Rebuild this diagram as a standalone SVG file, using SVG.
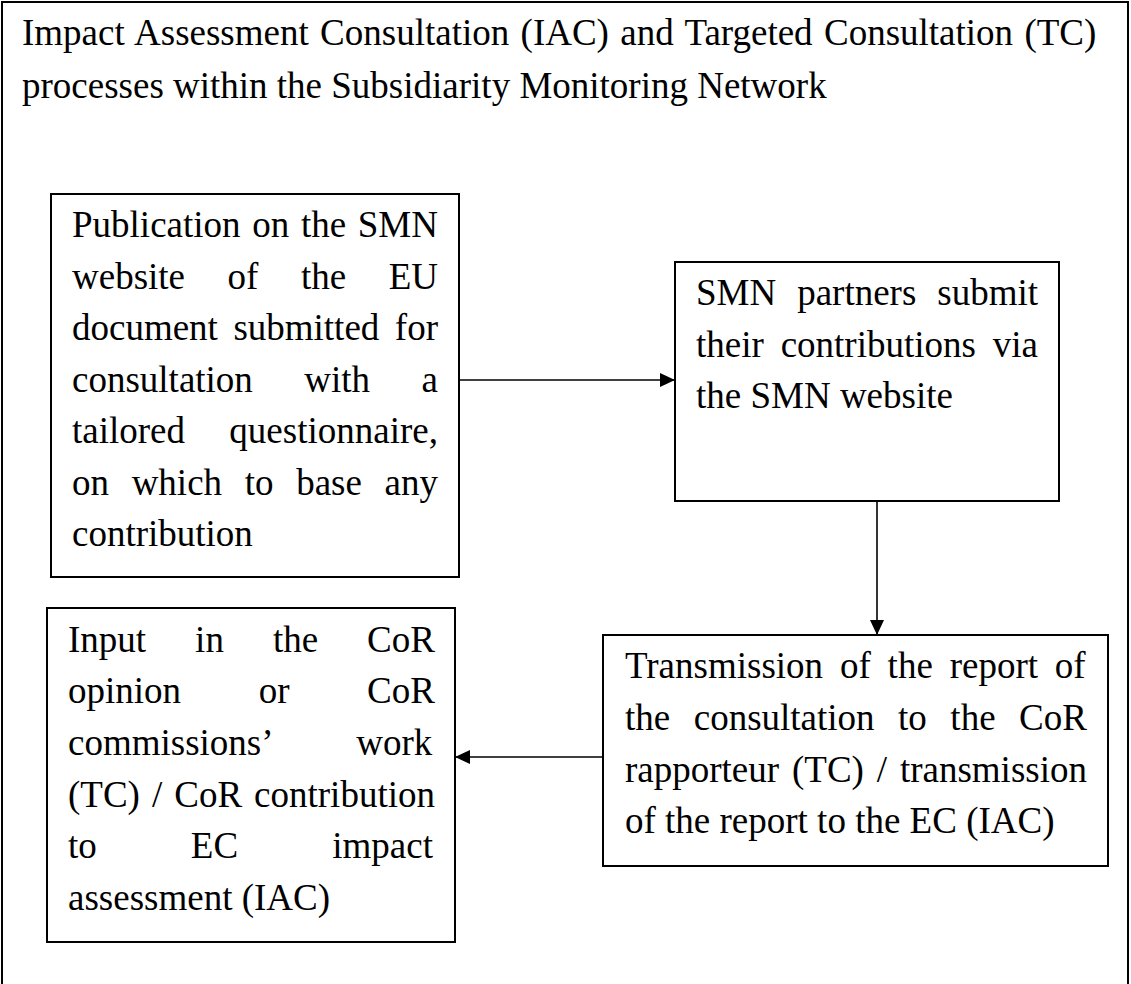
<svg xmlns="http://www.w3.org/2000/svg" width="1131" height="984" viewBox="0 0 1131 984">
<style>
.box{fill:#fff;stroke:#000;stroke-width:2}
.t{font-family:"Liberation Serif","Times New Roman",serif;font-size:37px;fill:#000}
.c{stroke:#000;stroke-width:1.6;fill:none}
</style>
<defs>
<marker id="ah" markerUnits="userSpaceOnUse" markerWidth="16" markerHeight="15" refX="15" refY="7" orient="auto">
<path d="M0,0 L15,7 L0,14 z" fill="#000"/>
</marker>
</defs>
<rect x="0" y="0" width="1131" height="984" fill="#fff"/>
<rect x="2" y="2" width="1126" height="1000" fill="none" stroke="#000" stroke-width="2"/>
<g id="title">
<text class="t" x="22" y="45" word-spacing="2.1">Impact Assessment Consultation (IAC) and Targeted Consultation (TC)</text>
<text class="t" x="22" y="98">processes within the Subsidiarity Monitoring Network</text>
</g>
<g id="connectors">
<line class="c" x1="459" y1="380" x2="675" y2="380" marker-end="url(#ah)"/>
<line class="c" x1="877" y1="501" x2="877" y2="635" marker-end="url(#ah)"/>
<line class="c" x1="603" y1="757" x2="455" y2="757" marker-end="url(#ah)"/>
</g>
<g id="node-publication">
<rect class="box" x="51" y="194" width="408" height="383"/>
<text class="t" x="72" y="237" word-spacing="2.43">Publication on the SMN</text>
<text class="t" x="72" y="289" word-spacing="33.29">website of the EU</text>
<text class="t" x="72" y="340" word-spacing="6.23">document submitted for</text>
<text class="t" x="72" y="392" word-spacing="42.2">consultation with a</text>
<text class="t" x="72" y="443" word-spacing="35.11">tailored questionnaire,</text>
<text class="t" x="72" y="495" word-spacing="13.4">on which to base any</text>
<text class="t" x="72" y="546">contribution</text>
</g>
<g id="node-partners">
<rect class="box" x="675" y="262" width="384" height="239"/>
<text class="t" x="696" y="305" word-spacing="11.69">SMN partners submit</text>
<text class="t" x="696" y="357" word-spacing="7.59">their contributions via</text>
<text class="t" x="696" y="408">the SMN website</text>
</g>
<g id="node-transmission">
<rect class="box" x="603" y="635" width="505" height="231"/>
<text class="t" x="625" y="678" word-spacing="7.6">Transmission of the report of</text>
<text class="t" x="625" y="730" word-spacing="14.26">the consultation to the CoR</text>
<text class="t" x="625" y="782" word-spacing="3.62">rapporteur (TC) / transmission</text>
<text class="t" x="625" y="833">of the report to the EC (IAC)</text>
</g>
<g id="node-input">
<rect class="box" x="47" y="608" width="408" height="334"/>
<text class="t" x="68" y="652" word-spacing="39.76">Input in the CoR</text>
<text class="t" x="68" y="703" word-spacing="68.37">opinion or CoR</text>
<text class="t" x="68" y="755" word-spacing="76.14">commissions’ work</text>
<text class="t" x="68" y="807" word-spacing="2.76">(TC) / CoR contribution</text>
<text class="t" x="68" y="858" word-spacing="84.84">to EC impact</text>
<text class="t" x="68" y="910">assessment (IAC)</text>
</g>
</svg>
